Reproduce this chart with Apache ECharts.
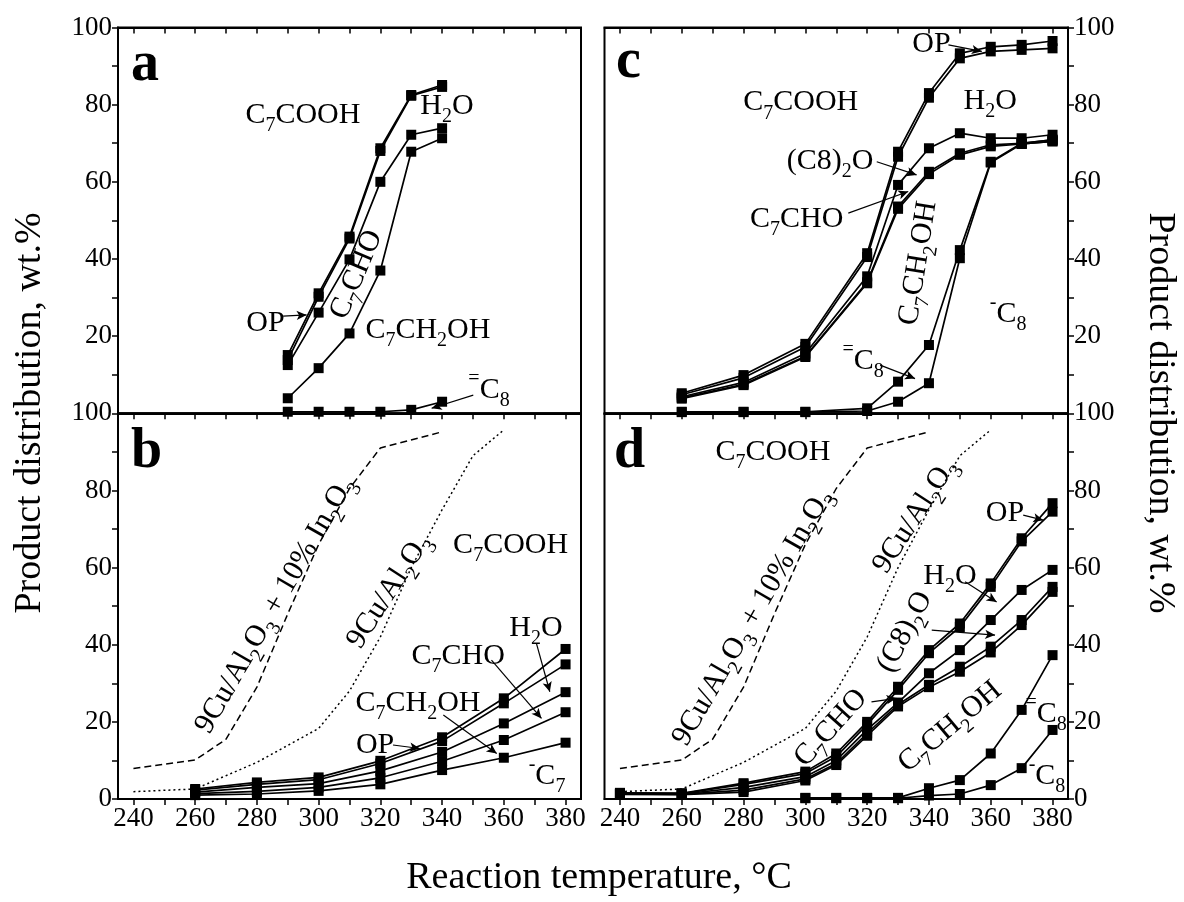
<!DOCTYPE html>
<html>
<head>
<meta charset="utf-8">
<script src="https://cdn.jsdelivr.net/npm/echarts@6.0.0/dist/echarts.min.js"></script>
<style>
  html, body { margin: 0; background: #fff; }
  #chart { width: 1184px; height: 902px; }
</style>
</head>
<body>
<div id="chart"></div>
<script>
// ---- data ----
// panel a
const tempA = [290, 300, 310, 320, 330, 340];
const a1 = [15.1, 31.1, 45.8, 68.7, 82.5, 85.1];
const a2 = [13.8, 30.2, 45.3, 68.0, 82.3, 84.6];
const a3 = [12.5, 26.1, 39.9, 60.0, 72.2, 73.9];
const a4 = [3.9, 11.7, 20.7, 37.0, 67.8, 71.3];
const a5 = [0.4, 0.4, 0.4, 0.4, 0.9, 3.0];

// panel b
const tempB = [260, 280, 300, 320, 340, 360, 380];
const b1 = [2.6, 4.3, 5.6, 9.9, 16.0, 26.1, 38.9];
const b2 = [2.3, 3.8, 5.0, 9.2, 15.0, 24.8, 34.9];
const b3 = [1.8, 3.0, 4.0, 7.3, 12.2, 19.6, 27.7];
const b4 = [1.4, 2.0, 3.0, 5.5, 9.8, 15.3, 22.5];
const b5 = [1.0, 1.3, 2.1, 3.8, 7.5, 10.7, 14.6];

// conversion curves shown in b and d
const tempIn = [240, 260, 270, 280, 290, 300, 310, 320, 340];
const convIn = [7.9, 10.1, 15.5, 29, 48, 66, 80.5, 91, 95.2];
const tempCu = [240, 260, 280, 300, 310, 320, 330, 340, 350, 360];
const convCu = [1.9, 2.6, 9.5, 18.3, 28, 42, 60, 75, 89, 95.7];

// panel c
const tempC = [260, 280, 300, 320, 330, 340, 350, 360, 370, 380];
const c1 = [5.2, 9.9, 18.0, 41.5, 67.8, 83.0, 93.3, 95.0, 95.5, 96.5];
const c2 = [4.8, 9.2, 17.2, 40.5, 66.5, 81.8, 92.0, 93.8, 94.2, 94.6];
const c3 = [4.3, 8.0, 15.5, 35.5, 59.2, 68.7, 72.6, 71.3, 71.3, 72.2];
const c4 = [4.0, 7.5, 14.8, 34.0, 53.6, 62.6, 67.4, 69.6, 70.0, 70.9];
const c5 = [3.8, 7.3, 14.6, 33.7, 53.0, 62.0, 67.0, 69.2, 69.8, 70.5];
const c6 = [0.4, 0.4, 0.4, 1.3, 8.2, 17.7, 42.3, 65.2, 70.0, 70.9];
const c7 = [0.3, 0.3, 0.3, 0.6, 3.0, 7.8, 40.2, 65.0, 69.8, 70.5];

// panel d
const tempD = [240, 260, 280, 300, 310, 320, 330, 340, 350, 360, 370, 380];
const d1 = [1.6, 1.5, 4.1, 7.1, 11.8, 20.0, 29.1, 38.6, 45.5, 55.9, 67.6, 76.7];
const d2 = [1.5, 1.4, 3.8, 6.6, 11.0, 19.3, 28.3, 37.8, 44.6, 55.0, 66.8, 74.5];
const d3 = [1.4, 1.3, 3.0, 5.8, 10.0, 18.0, 25.0, 32.6, 38.6, 46.4, 54.2, 59.4];
const d4 = [1.3, 1.2, 2.3, 5.2, 9.2, 17.0, 24.5, 29.6, 34.3, 39.5, 46.4, 55.0];
const d5 = [1.2, 1.1, 1.8, 4.8, 8.8, 16.4, 24.0, 29.0, 33.0, 38.0, 45.1, 53.7];
const tempD8 = [300, 310, 320, 330, 340, 350, 360, 370, 380];
const d6 = [0.3, 0.3, 0.3, 0.3, 2.8, 4.9, 11.8, 23.1, 37.3];
const d7 = [0.2, 0.2, 0.2, 0.2, 0.9, 1.3, 3.6, 8.0, 17.9];

// ticks
const xTicks = [240, 250, 260, 270, 280, 290, 300, 310, 320, 330, 340, 350, 360, 370, 380];
const xLabels = [240, 260, 280, 300, 320, 340, 360, 380];
const yTicks = [0, 10, 20, 30, 40, 50, 60, 70, 80, 90, 100];
const yLabelsTop = [20, 40, 60, 80, 100];
const yLabelsBottom = [0, 20, 40, 60, 80, 100];

// text labels: [panel, T, value, text, rotation deg, align, size]
const labelsAt = [
  [0, 239.2, 90.1, 'a', 0, 'left', 56],
  [0, 294.9, 77.4, 'C{s|7}COOH', 0, 'center'],
  [0, 341.6, 79.7, 'H{s|2}O', 0, 'center'],
  [0, 312.3, 35.9, 'C{s|7}CHO', 67, 'center'],
  [0, 282.8, 23.5, 'OP', 0, 'center'],
  [0, 335.4, 21.6, 'C{s|7}CH{s|2}OH', 0, 'center'],
  [0, 355.2, 6.0, '{u|=}C{s|8}', 0, 'center'],

  [1, 239.2, 89.7, 'b', 0, 'left', 56],
  [1, 285.9, 50.3, '9Cu/Al{s|2}O{s|3} + 10% In{s|2}O{s|3}', 60, 'center'],
  [1, 322.8, 53.9, '9Cu/Al{s|2}O{s|3}', 57, 'center'],
  [1, 362.2, 65.9, 'C{s|7}COOH', 0, 'center'],
  [1, 370.4, 44.3, 'H{s|2}O', 0, 'center'],
  [1, 345.2, 37.1, 'C{s|7}CHO', 0, 'center'],
  [1, 332.2, 24.9, 'C{s|7}CH{s|2}OH', 0, 'center'],
  [1, 318.3, 14.0, 'OP', 0, 'center'],
  [1, 374.0, 6.0, '{u|-}C{s|7}', 0, 'center'],

  [2, 238.7, 90.8, 'c', 0, 'left', 56],
  [2, 340.8, 95.8, 'OP', 0, 'center'],
  [2, 298.5, 80.6, 'C{s|7}COOH', 0, 'center'],
  [2, 359.8, 81.0, 'H{s|2}O', 0, 'center'],
  [2, 308.0, 65.4, '(C8){s|2}O', 0, 'center'],
  [2, 297.2, 50.4, 'C{s|7}CHO', 0, 'center'],
  [2, 336.5, 38.9, 'C{s|7}CH{s|2}OH', 81, 'center'],
  [2, 318.7, 13.6, '{u|=}C{s|8}', 0, 'center'],
  [2, 365.6, 25.8, '{u|-}C{s|8}', 0, 'center'],

  [3, 238.1, 89.7, 'd', 0, 'left', 56],
  [3, 289.5, 90.0, 'C{s|7}COOH', 0, 'center'],
  [3, 282.9, 47.1, '9Cu/Al{s|2}O{s|3} + 10% In{s|2}O{s|3}', 60, 'center'],
  [3, 335.5, 73.4, '9Cu/Al{s|2}O{s|3}', 57, 'center'],
  [3, 364.6, 74.2, 'OP', 0, 'center'],
  [3, 346.8, 57.8, 'H{s|2}O', 0, 'center'],
  [3, 332.2, 43.3, '(C8){s|2}O', 62, 'center'],
  [3, 308.3, 18.4, 'C{s|7}CHO', 48, 'center'],
  [3, 346.8, 18.7, 'C{s|7}CH{s|2}OH', 40, 'center'],
  [3, 377.9, 22.0, '{u|=}C{s|8}', 0, 'center'],
  [3, 378.2, 6.0, '{u|-}C{s|8}', 0, 'center']
];

// pointer lines: [panel, T1, v1, T2, v2]
const arrowsAt = [
  [0, 288.5, 25.2, 296.1, 25.5],
  [0, 350.1, 4.7, 336.6, 1.3],
  [1, 370.6, 40.2, 374.9, 27.8],
  [1, 356.0, 36.0, 372.2, 20.9],
  [1, 340.4, 21.8, 357.7, 11.8],
  [1, 324.1, 14.0, 332.8, 13.1],
  [2, 346.3, 95.5, 357.1, 93.8],
  [2, 323.1, 65.2, 336.0, 61.8],
  [2, 313.9, 51.9, 333.3, 57.5],
  [2, 324.2, 12.5, 335.5, 9.0],
  [3, 370.5, 73.6, 377.0, 72.3],
  [3, 351.7, 56.3, 361.9, 51.1],
  [3, 340.9, 43.8, 361.4, 42.5],
  [3, 321.4, 25.2, 329.5, 26.1]
];

// ---- chart ----
const FONT = 'Liberation Serif';
const chart = echarts.init(document.getElementById('chart'));

const grids = [
  {left: 118, top: 27.5, width: 463, height: 385.8},
  {left: 118, top: 413.3, width: 463, height: 385.7},
  {left: 604.5, top: 27.5, width: 463.5, height: 385.8},
  {left: 604.5, top: 413.3, width: 463.5, height: 385.7}
].map(g => Object.assign(g, {
  show: true, borderColor: '#000', borderWidth: 2, outerBoundsMode: 'none'
}));

const axisLine = {show: true, lineStyle: {color: '#000', width: 2}};
const tickStyle = {color: '#000', width: 1.5};
const xAxes = [];
const yAxes = [];
grids.forEach((g, i) => {
  const lower = i === 1 || i === 3;
  const right = i >= 2;
  xAxes.push({
    type: 'value', gridIndex: i, min: 235, max: 385, position: 'bottom',
    axisLine: axisLine,
    axisTick: {show: true, inside: false, length: 6, lineStyle: tickStyle, customValues: xTicks},
    axisLabel: {show: lower, customValues: xLabels, fontFamily: FONT, fontSize: 27, color: '#000', margin: 6},
    splitLine: {show: false}
  });
  xAxes.push({
    type: 'value', gridIndex: i, min: 235, max: 385, position: 'top',
    axisLine: axisLine,
    axisTick: {show: true, inside: true, length: 6, lineStyle: tickStyle, customValues: xTicks},
    axisLabel: {show: false},
    splitLine: {show: false}
  });
  yAxes.push({
    type: 'value', gridIndex: i, min: 0, max: 100, position: right ? 'right' : 'left',
    axisLine: axisLine,
    axisTick: {show: true, inside: false, length: 6, lineStyle: tickStyle, customValues: yTicks},
    axisLabel: {customValues: lower ? yLabelsBottom : yLabelsTop, fontFamily: FONT, fontSize: 27, color: '#000', margin: 6},
    splitLine: {show: false}
  });
});

function pts(xs, ys) {
  return xs.map((x, k) => [x, ys[k]]);
}
function marked(g, xs, ys) {
  return {
    type: 'line', xAxisIndex: g * 2, yAxisIndex: g, data: pts(xs, ys),
    symbol: 'rect', symbolSize: 10, itemStyle: {color: '#000'},
    lineStyle: {color: '#000', width: 1.7}, silent: true, z: 3
  };
}
function curve(g, xs, ys, dash) {
  return {
    type: 'line', xAxisIndex: g * 2, yAxisIndex: g, data: pts(xs, ys),
    symbol: 'none', lineStyle: {color: '#000', width: 1.5, type: dash}, silent: true, z: 2
  };
}
function pointers(g) {
  return {
    type: 'line', xAxisIndex: g * 2, yAxisIndex: g, data: [], silent: true,
    markLine: {
      silent: true, symbol: ['none', 'arrow'], symbolSize: [7, 10],
      lineStyle: {color: '#000', width: 1.2, type: 'solid'},
      label: {show: false},
      data: arrowsAt.filter(a => a[0] === g).map(a => [{coord: [a[1], a[2]]}, {coord: [a[3], a[4]]}])
    }
  };
}

const series = [
  marked(0, tempA, a1), marked(0, tempA, a2), marked(0, tempA, a3), marked(0, tempA, a4), marked(0, tempA, a5),
  marked(1, tempB, b1), marked(1, tempB, b2), marked(1, tempB, b3), marked(1, tempB, b4), marked(1, tempB, b5),
  curve(1, tempIn, convIn, [7, 4]), curve(1, tempCu, convCu, [2, 3]),
  marked(2, tempC, c1), marked(2, tempC, c2), marked(2, tempC, c3), marked(2, tempC, c4),
  marked(2, tempC, c5), marked(2, tempC, c6), marked(2, tempC, c7),
  marked(3, tempD, d1), marked(3, tempD, d2), marked(3, tempD, d3), marked(3, tempD, d4), marked(3, tempD, d5),
  marked(3, tempD8, d6), marked(3, tempD8, d7),
  curve(3, tempIn, convIn, [7, 4]), curve(3, tempCu, convCu, [2, 3]),
  pointers(0), pointers(1), pointers(2), pointers(3)
];

chart.setOption({
  animation: false,
  backgroundColor: '#fff',
  grid: grids,
  xAxis: xAxes,
  yAxis: yAxes,
  series: series
});

const rich = {
  s: {fontFamily: FONT, fontSize: 20, padding: [22, 0, 0, 0]},
  u: {fontFamily: FONT, fontSize: 20, padding: [0, 0, 22, 0]}
};

const graphic = labelsAt.map(([g, t, v, text, rot, align, size]) => {
  const p = chart.convertToPixel({xAxisIndex: g * 2, yAxisIndex: g}, [t, v]);
  return {
    type: 'text', x: p[0], y: p[1], rotation: rot * Math.PI / 180, silent: true, z: 10,
    style: {
      text: text, fontFamily: FONT, fontSize: size || 30, fontWeight: size ? 'bold' : 'normal',
      fill: '#000', align: align, verticalAlign: 'middle', rich: rich
    }
  };
});

const titleStyle = {fontFamily: FONT, fontSize: 38, fill: '#000', align: 'center', verticalAlign: 'middle'};
graphic.push(
  {type: 'text', x: 30, y: 413, rotation: Math.PI / 2, silent: true,
   style: Object.assign({text: 'Product distribution, wt.%'}, titleStyle)},
  {type: 'text', x: 1160, y: 413, rotation: -Math.PI / 2, silent: true,
   style: Object.assign({text: 'Product distribution, wt.%'}, titleStyle)},
  {type: 'text', x: 599, y: 878, silent: true,
   style: Object.assign({text: 'Reaction temperature, °C'}, titleStyle)}
);

chart.setOption({graphic: graphic});
</script>
</body>
</html>
